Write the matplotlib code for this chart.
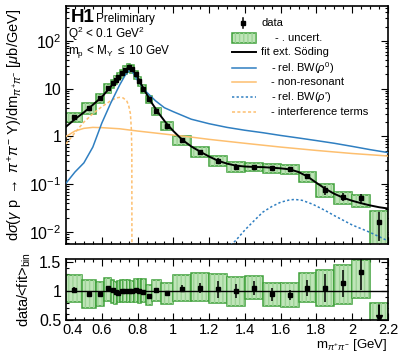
import math
import matplotlib
matplotlib.use("Agg")
import matplotlib.pyplot as plt
from matplotlib.patches import Rectangle
from matplotlib.lines import Line2D
from matplotlib.ticker import MultipleLocator, LogLocator, FuncFormatter, NullFormatter

plt.rcParams["font.family"] = ["Liberation Sans", "DejaVu Sans"]
plt.rcParams["mathtext.fontset"] = "custom"
plt.rcParams["mathtext.rm"] = "Liberation Sans"
plt.rcParams["mathtext.it"] = "Liberation Sans:italic"
plt.rcParams["mathtext.bf"] = "Liberation Sans:bold"

# --- measured cross section, m_pipi bins ---
BIN_EDGES = [0.4, 0.49, 0.565, 0.615, 0.65, 0.67, 0.685, 0.70, 0.72, 0.74, 0.76,
             0.78, 0.80, 0.82, 0.845, 0.88, 0.93, 1.0, 1.1, 1.2, 1.3, 1.4, 1.5,
             1.6, 1.7, 1.8, 1.9, 2.0, 2.1, 2.2]
M_PTS = [0.442, 0.529, 0.59, 0.633, 0.66, 0.677, 0.693, 0.711, 0.73, 0.75,
         0.769, 0.79, 0.81, 0.832, 0.862, 0.903, 0.965, 1.05, 1.15, 1.25,
         1.35, 1.45, 1.55, 1.65, 1.75, 1.85, 1.95, 2.05, 2.15]
XSEC = [2.5, 4.0, 6.3, 10.5, 13.0, 15.5, 18.0, 21.0, 25.0, 28.0,
        26.0, 20.0, 14.5, 10.0, 6.0, 3.4, 1.65, 0.85, 0.48, 0.31,
        0.235, 0.23, 0.22, 0.205, 0.148, 0.076, 0.055, 0.051, 0.016]
STAT_REL = [0.05, 0.03, 0.03, 0.03, 0.03, 0.03, 0.03, 0.03, 0.03, 0.03,
            0.03, 0.03, 0.03, 0.03, 0.03, 0.03, 0.03, 0.06, 0.08, 0.14,
            0.12, 0.11, 0.12, 0.10, 0.13, 0.23, 0.20, 0.23, 0.60]
UNC_UP = [0.26, 0.26, 0.22, 0.17, 0.17, 0.18, 0.21, 0.18, 0.18, 0.18,
          0.18, 0.18, 0.20, 0.21, 0.20, 0.18, 0.19, 0.22, 0.25, 0.25,
          0.25, 0.20, 0.21, 0.23, 0.24, 0.30, 0.28, 0.16, 0.68]
UNC_DN = [0.20, 0.25, 0.22, 0.21, 0.22, 0.20, 0.17, 0.19, 0.19, 0.19,
          0.19, 0.20, 0.21, 0.19, 0.18, 0.18, 0.19, 0.21, 0.21, 0.23,
          0.25, 0.18, 0.22, 0.22, 0.23, 0.29, 0.31, 0.34, 0.70]
RATIO = [1.01, 0.945, 0.95, 1.05, 1.02, 0.98, 0.97, 1.0, 1.0, 1.0,
         0.995, 1.02, 1.0, 0.99, 0.92, 1.01, 0.96, 1.04, 1.05, 1.03,
         0.995, 1.05, 0.94, 0.93, 1.055, 1.05, 1.13, 1.32, 0.47]

# --- fit curves ---
FIT_M = [0.40, 0.45, 0.50, 0.55, 0.60, 0.65, 0.68, 0.70, 0.72, 0.74, 0.755,
         0.765, 0.78, 0.80, 0.82, 0.85, 0.88, 0.92, 0.96, 1.0, 1.05, 1.1,
         1.15, 1.2, 1.25, 1.3, 1.35, 1.4, 1.45, 1.5, 1.55, 1.6, 1.65, 1.7,
         1.75, 1.8, 1.85, 1.9, 1.95, 2.0, 2.05, 2.1, 2.15, 2.2]
FIT_Y = [1.6, 2.3, 3.2, 4.6, 6.7, 11.0, 14.5, 17.5, 22.0, 26.0, 27.5,
         27.0, 23.0, 17.5, 12.5, 7.8, 5.0, 3.0, 1.9, 1.3, 0.85, 0.62,
         0.48, 0.38, 0.31, 0.27, 0.245, 0.235, 0.23, 0.228, 0.222, 0.215, 0.205, 0.18,
         0.145, 0.107, 0.08, 0.063, 0.052, 0.045, 0.04, 0.036, 0.033, 0.031]
RHO_M = [0.40, 0.45, 0.50, 0.55, 0.60, 0.65, 0.70, 0.73, 0.75, 0.77, 0.80,
         0.85, 0.90, 0.95, 1.0, 1.1, 1.2, 1.3, 1.4, 1.5, 1.6, 1.7, 1.8, 1.9,
         2.0, 2.1, 2.2]
RHO_Y = [0.105, 0.18, 0.28, 0.6, 1.9, 5.0, 12.0, 19.0, 23.5, 23.0, 15.0,
         8.5, 5.6, 4.0, 3.3, 2.3, 1.85, 1.55, 1.35, 1.2, 1.05, 0.93, 0.82, 0.72,
         0.62, 0.53, 0.46]
NONRES_M = [0.40, 0.45, 0.50, 0.55, 0.60, 0.70, 0.80, 0.90, 1.0, 1.1, 1.2,
            1.4, 1.6, 1.8, 2.0, 2.2]
NONRES_Y = [1.0, 1.3, 1.48, 1.55, 1.53, 1.45, 1.3, 1.18, 1.07, 0.97, 0.87,
            0.72, 0.6, 0.51, 0.44, 0.39]
RHOP_M = [1.28, 1.32, 1.35, 1.4, 1.45, 1.5, 1.55, 1.6, 1.65, 1.68, 1.72,
          1.78, 1.85, 1.9, 2.0, 2.1, 2.2]
RHOP_Y = [0.003, 0.0053, 0.0067, 0.011, 0.017, 0.026, 0.034, 0.042, 0.047,
          0.048, 0.046, 0.038, 0.028, 0.022, 0.014, 0.0098, 0.0065]
INTERF_M = [0.40, 0.45, 0.50, 0.55, 0.60, 0.65, 0.68, 0.70, 0.72, 0.74,
            0.75, 0.76, 0.765, 0.768, 0.769]
INTERF_Y = [0.7, 1.2, 2.0, 3.0, 4.2, 5.6, 6.4, 6.6, 6.4, 5.5, 4.5, 3.0,
            1.5, 0.5, 0.0001]

BLUE = "#2f7fc1"
ORANGE = "#fdbf6f"
GREEN_FILL = "#bfe5b8"
GREEN_EDGE = "#3fa03a"

W, H = 398, 355


def fx(x):
    return x / W


def fy(y):
    return 1 - y / H


fig = plt.figure(figsize=(W / 100, H / 100), dpi=100)
ax = fig.add_axes([fx(66), fy(244), (388 - 66) / W, (244 - 6) / H])
axr = fig.add_axes([fx(66), fy(320), (388 - 66) / W, (320 - 259) / H])


def draw_boxes(a, centers):
    for i in range(len(centers)):
        lo = centers[i] * (1 - UNC_DN[i])
        hi = centers[i] * (1 + UNC_UP[i])
        x0, x1 = BIN_EDGES[i], BIN_EDGES[i + 1]
        a.add_patch(Rectangle((x0, lo), x1 - x0, hi - lo, facecolor=GREEN_FILL,
                              edgecolor=GREEN_EDGE, lw=1.1, zorder=2))
        a.add_patch(Rectangle((x0, lo), x1 - x0, hi - lo, facecolor="none",
                              edgecolor="#9dd397", hatch="||||", lw=0, zorder=2))


# main panel
draw_boxes(ax, XSEC)
ax.plot(INTERF_M, INTERF_Y, color=ORANGE, lw=1.1, ls=(0, (2, 1.5)), zorder=3)
ax.plot(NONRES_M, NONRES_Y, color=ORANGE, lw=1.1, zorder=3)
ax.plot(RHO_M, RHO_Y, color=BLUE, lw=1.1, zorder=3)
ax.plot(RHOP_M, RHOP_Y, color=BLUE, lw=1.1, ls=(0, (1.5, 1.5)), zorder=3)
ax.plot(FIT_M, FIT_Y, color="black", lw=1.4, zorder=4)
yerr = [v * s for v, s in zip(XSEC, STAT_REL)]
ax.errorbar(M_PTS, XSEC, yerr=yerr, fmt="s", color="black", ms=2.8,
            elinewidth=1.1, capsize=0, zorder=5)

ax.set_yscale("log")
ax.set_xlim(0.4, 2.2)
ax.set_ylim(0.0056, 540)
ax.xaxis.set_major_locator(MultipleLocator(0.2))
ax.xaxis.set_minor_locator(MultipleLocator(0.05))
ax.xaxis.set_major_formatter(NullFormatter())
ax.yaxis.set_major_locator(LogLocator(base=10, numticks=10))
ax.yaxis.set_minor_locator(LogLocator(base=10, subs=range(2, 10), numticks=20))
ax.yaxis.set_minor_formatter(NullFormatter())


def logfmt(v, pos):
    if abs(v - 1) < 1e-9:
        return "1"
    if abs(v - 10) < 1e-9:
        return "10"
    return r"$10^{%d}$" % int(round(math.log10(v)))


ax.yaxis.set_major_formatter(FuncFormatter(logfmt))
ax.set_ylabel(r"d$\sigma$($\gamma$ p $\rightarrow$ $\pi^{+}\pi^{-}$ Y)/dm$_{\pi^{+}\pi^{-}}$ [$\mu$b/GeV]",
              fontsize=10.5, labelpad=3)

# ratio panel
draw_boxes(axr, RATIO)
axr.axhline(1.0, color="black", lw=1.0, zorder=3)
rerr = [r * s for r, s in zip(RATIO, STAT_REL)]
axr.errorbar(M_PTS, RATIO, yerr=rerr, fmt="s", color="black", ms=2.8,
             elinewidth=1.1, capsize=0, zorder=5, clip_on=True)
axr.set_xlim(0.4, 2.2)
axr.set_ylim(0.5, 1.55)
# out-of-range point drawn as arrow at the lower edge
ylo = axr.get_ylim()[0]
for m, r, e in zip(M_PTS, RATIO, rerr):
    if r < ylo:
        axr.plot([m, m], [ylo, r + e], color="black", lw=1.1, zorder=5)
        axr.plot([m], [ylo + 0.04], marker="v", color="black", ms=4, zorder=6)
axr.xaxis.set_major_locator(MultipleLocator(0.2))
axr.xaxis.set_minor_locator(MultipleLocator(0.05))


def xfmt(v, pos):
    # first label is drawn separately, nudged right like the original
    if abs(v - 0.4) < 1e-9:
        return ""
    return "%g" % round(v, 1)


axr.xaxis.set_major_formatter(FuncFormatter(xfmt))
axr.annotate("0.4", xy=(0.4, 0), xycoords=("data", "axes fraction"),
             xytext=(4.5, -2.5), textcoords="offset points", ha="center", va="top",
             fontsize=10.5)
axr.yaxis.set_major_locator(MultipleLocator(0.5))
axr.yaxis.set_minor_locator(MultipleLocator(0.1))
axr.yaxis.set_major_formatter(FuncFormatter(lambda v, p: "%g" % v))
axr.set_ylabel(r"data/<fit>$_{\rm bin}$", fontsize=10.5, labelpad=4)
fig.text(fx(387), fy(348), r"m$_{\pi^{+}\pi^{-}}$ [GeV]", fontsize=9.5,
         ha="right", va="baseline")

for a in (ax, axr):
    a.tick_params(which="both", direction="in", top=True, right=True,
                  labelsize=11.5, width=0.8)
    a.tick_params(which="major", length=5)
    a.tick_params(which="minor", length=2.5)
    for s in a.spines.values():
        s.set_linewidth(1.2)
axr.tick_params(axis="x", pad=1.8, labelsize=10.5)

# labels
fig.text(fx(71), fy(18), "H1", fontsize=13.5, fontweight="bold", va="center")
fig.text(fx(96), fy(19), "Preliminary", fontsize=8.5, va="center")
fig.text(fx(68), fy(34), r"Q$^{2}$ < 0.1 GeV$^{2}$", fontsize=8.5, va="center")
fig.text(fx(68), fy(52), r"m$_{\rm p}$ < M$_{\rm Y}$ $\leq$ 10 GeV", fontsize=8.5, va="center")

# legend, drawn by hand
xl0, xl1 = 232, 256
fig.add_artist(Line2D([fx(243), fx(243)], [fy(18), fy(28)], color="black", lw=1.1,
                      transform=fig.transFigure))
fig.add_artist(Line2D([fx(243)], [fy(23)], marker="s", ms=2.8, color="black",
                      transform=fig.transFigure))
fig.text(fx(261), fy(23), "data", fontsize=8, va="center")
fig.add_artist(Rectangle((fx(xl0), fy(43)), (xl1 - xl0) / W, 10 / H, facecolor=GREEN_FILL,
                         edgecolor=GREEN_EDGE, lw=1.1, transform=fig.transFigure))
fig.add_artist(Rectangle((fx(xl0), fy(43)), (xl1 - xl0) / W, 10 / H, facecolor="none",
                         edgecolor="#9dd397", hatch="||||", lw=0, transform=fig.transFigure))
fig.text(fx(275), fy(38), "- . uncert.", fontsize=8, va="center")
fig.add_artist(Line2D([fx(xl0), fx(xl1)], [fy(52), fy(52)], color="black", lw=1.4,
                      transform=fig.transFigure))
fig.text(fx(261), fy(52), "fit ext. Söding", fontsize=8, va="center")
fig.add_artist(Line2D([fx(xl0), fx(xl1)], [fy(68), fy(68)], color=BLUE, lw=1.1,
                      transform=fig.transFigure))
fig.text(fx(271), fy(68), r"- rel. BW($\rho^{0}$)", fontsize=8, va="center")
fig.add_artist(Line2D([fx(xl0), fx(xl1)], [fy(82), fy(82)], color=ORANGE, lw=1.1,
                      transform=fig.transFigure))
fig.text(fx(271), fy(82), "- non-resonant", fontsize=8, va="center")
fig.add_artist(Line2D([fx(xl0), fx(xl1)], [fy(97), fy(97)], color=BLUE, lw=1.1,
                      ls=(0, (1.5, 1.5)), transform=fig.transFigure))
fig.text(fx(271), fy(97), r"- rel. BW($\rho$')", fontsize=8, va="center")
fig.add_artist(Line2D([fx(xl0), fx(xl1)], [fy(112), fy(112)], color=ORANGE, lw=1.1,
                      ls=(0, (2, 1.5)), transform=fig.transFigure))
fig.text(fx(271), fy(112), "- interference terms", fontsize=8, va="center")

fig.savefig("out.png", dpi=100)
